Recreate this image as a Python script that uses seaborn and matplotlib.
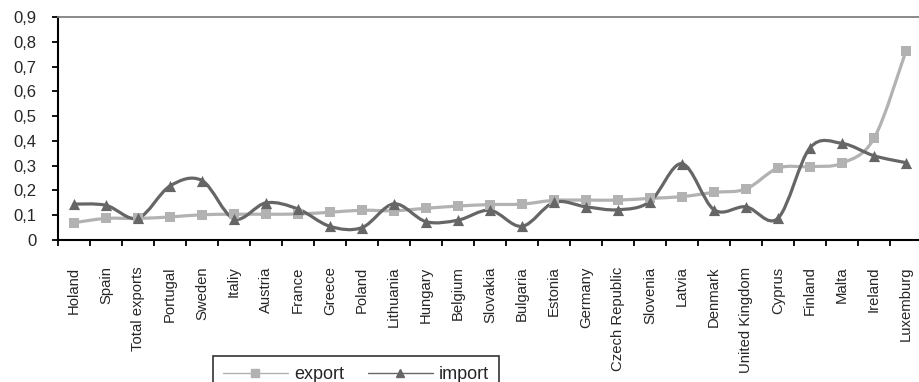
"""
Export vs import line chart by country, smoothed lines like the Excel original.
"""
import numpy as np
import pandas as pd
import matplotlib
matplotlib.use("Agg")
from matplotlib import pyplot as plt
from matplotlib.path import Path
from matplotlib.patches import PathPatch
from matplotlib.lines import Line2D
from matplotlib.ticker import FixedLocator, FuncFormatter
import seaborn as sns

countries = [
    "Holand", "Spain", "Total exports", "Portugal", "Sweden", "Italiy", "Austria",
    "France", "Greece", "Poland", "Lithuania", "Hungary", "Belgium", "Slovakia",
    "Bulgaria", "Estonia", "Germany", "Czech Republic", "Slovenia", "Latvia",
    "Denmark", "United Kingdom", "Cyprus", "Finland", "Malta", "Ireland", "Luxemburg",
]
export_vals = [
    0.070, 0.087, 0.087, 0.093, 0.102, 0.104, 0.104, 0.105, 0.112, 0.120,
    0.118, 0.128, 0.137, 0.143, 0.145, 0.160, 0.161, 0.161, 0.168, 0.175,
    0.192, 0.206, 0.290, 0.296, 0.310, 0.410, 0.763,
]
import_vals = [
    0.145, 0.140, 0.088, 0.218, 0.240, 0.085, 0.150, 0.125, 0.055, 0.050,
    0.146, 0.074, 0.080, 0.120, 0.055, 0.152, 0.134, 0.122, 0.155, 0.308,
    0.122, 0.134, 0.088, 0.372, 0.390, 0.340, 0.312,
]
y_ticks = [0, 0.1, 0.2, 0.3, 0.4, 0.5, 0.6, 0.7, 0.8, 0.9]

df = pd.DataFrame({"country": countries, "export": export_vals, "import": import_vals})
df["pos"] = np.arange(len(df))

EXPORT_C = "#b2b2b2"
IMPORT_C = "#666666"


def smooth_path(x, y, k=1 / 6):
    """Catmull-Rom style bezier path through the points (Excel 'smoothed line')."""
    x = np.asarray(x, float)
    y = np.asarray(y, float)
    px = np.concatenate([[x[0]], x, [x[-1]]])
    py = np.concatenate([[y[0]], y, [y[-1]]])
    verts = [(x[0], y[0])]
    codes = [Path.MOVETO]
    for i in range(1, len(px) - 2):
        c1 = (px[i] + (px[i + 1] - px[i - 1]) * k, py[i] + (py[i + 1] - py[i - 1]) * k)
        c2 = (px[i + 1] - (px[i + 2] - px[i]) * k, py[i + 1] - (py[i + 2] - py[i]) * k)
        verts += [c1, c2, (px[i + 1], py[i + 1])]
        codes += [Path.CURVE4] * 3
    return Path(verts, codes)


sns.set_style("white")
plt.rcParams["font.family"] = ["Liberation Sans", "DejaVu Sans"]

fig = plt.figure(figsize=(9.19, 3.82), dpi=100)
ax = fig.add_axes([58 / 919, 1 - 240 / 382, 864 / 919, 223 / 382])

# smoothed lines
for col, color in [("export", EXPORT_C), ("import", IMPORT_C)]:
    patch = PathPatch(smooth_path(df["pos"], df[col]), facecolor="none",
                      edgecolor=color, lw=2.3, zorder=2, capstyle="round",
                      joinstyle="round")
    ax.add_patch(patch)

# markers
sns.scatterplot(data=df, x="pos", y="export", marker="s", s=55, color=EXPORT_C,
                edgecolor=EXPORT_C, linewidth=0, zorder=3, ax=ax, legend=False)
sns.scatterplot(data=df, x="pos", y="import", marker="^", s=65, color=IMPORT_C,
                edgecolor=IMPORT_C, linewidth=0, zorder=4, ax=ax, legend=False)

ax.set_xlim(-0.5, len(df) - 0.5)
ax.set_ylim(0, 0.9)
ax.set_xlabel("")
ax.set_ylabel("")

# x axis: labels at centres, tick marks at category boundaries
ax.set_xticks(df["pos"])
ax.set_xticklabels(df["country"], rotation=90, fontsize=10.7)
ax.xaxis.set_minor_locator(FixedLocator(np.arange(-0.5, len(df), 1)))
ax.tick_params(axis="x", which="major", length=0, pad=19)
ax.tick_params(axis="x", which="minor", length=4, width=1.3, color="black",
               direction="out", bottom=True)

# y axis
ax.set_yticks(y_ticks)
ax.yaxis.set_major_formatter(
    FuncFormatter(lambda v, _: "0" if v == 0 else f"{v:.1f}".replace(".", ",")))
ax.tick_params(axis="y", length=4, width=1.3, color="black", direction="out",
               left=True, labelsize=12, pad=11.5)

for side in ["left", "bottom"]:
    ax.spines[side].set_color("black")
    ax.spines[side].set_linewidth(1.5)
ax.spines["top"].set_color("#808080")
ax.spines["top"].set_linewidth(1.3)
ax.spines["right"].set_visible(False)

# legend
handles = [
    Line2D([], [], color=EXPORT_C, lw=1, marker="s", markersize=6),
    Line2D([], [], color=IMPORT_C, lw=1, marker="^", markersize=6),
]
leg = fig.legend(handles, ["export", "import"], ncol=2, loc="upper left",
                 bbox_to_anchor=(213 / 919, 1 - 356 / 382), fontsize=13,
                 frameon=True, fancybox=False, edgecolor="black",
                 handlelength=3.6, handletextpad=0.35, columnspacing=1.3,
                 borderpad=0.55, borderaxespad=0)
leg.get_frame().set_linewidth(1.2)

plt.savefig("out.png", dpi=100)
